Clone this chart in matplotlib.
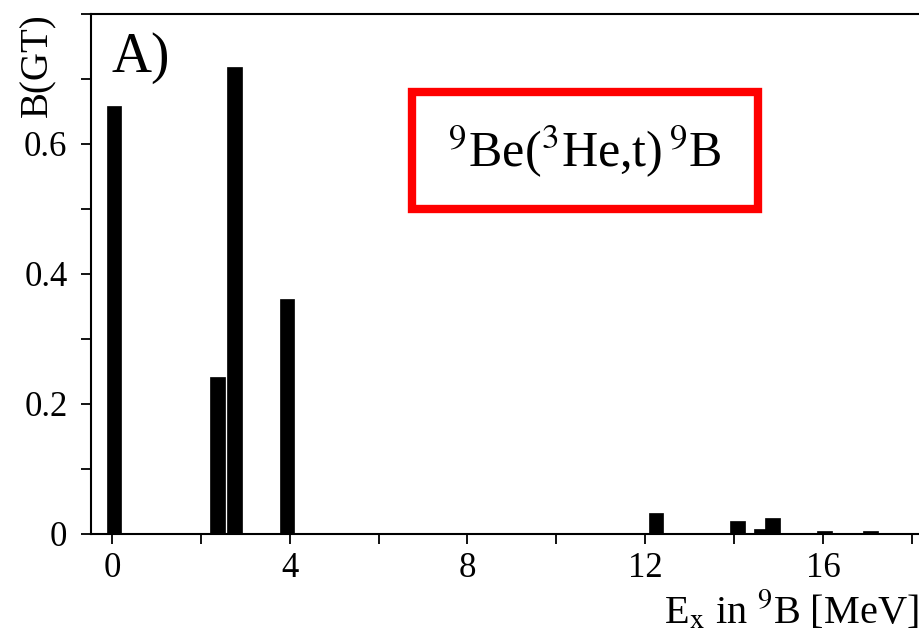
import matplotlib
matplotlib.use('Agg')
import matplotlib.pyplot as plt
from matplotlib.patches import Rectangle
from matplotlib.ticker import MultipleLocator

plt.rcParams['font.family'] = ['Liberation Serif', 'DejaVu Serif']
plt.rcParams['mathtext.fontset'] = 'stix'

# excitation energies in 9B (MeV) and B(GT) strengths
energy = [0.05, 2.37, 2.76, 3.94, 12.24, 14.07, 14.6, 14.86, 16.03, 17.07]
bgt = [0.658, 0.242, 0.718, 0.362, 0.032, 0.020, 0.008, 0.025, 0.005, 0.005]

fig = plt.figure(figsize=(9.2, 6.36), dpi=100)
ax = fig.add_axes([91/920, 1-534/636, 1-91/920, (534-14)/636])

ax.bar(energy, bgt, width=0.33, color='black', edgecolor='black', linewidth=0.5)

ax.set_xlim(-0.47, 18.18)
ax.set_ylim(0, 0.8)
ax.xaxis.set_major_locator(MultipleLocator(4))
ax.xaxis.set_minor_locator(MultipleLocator(2))
ax.yaxis.set_major_locator(MultipleLocator(0.2))
ax.yaxis.set_minor_locator(MultipleLocator(0.1))
ax.set_yticks([0, 0.2, 0.4, 0.6])
ax.set_yticklabels(['0', '0.2', '0.4', '0.6'])
ax.tick_params(which='both', direction='out', length=7, width=1.3, labelsize=25)
ax.tick_params(axis='x', pad=6)
ax.tick_params(axis='y', pad=10)
ax.spines['right'].set_visible(False)
for s in ['left', 'bottom', 'top']:
    ax.spines[s].set_linewidth(1.5)

ax.text(0.025, 0.965, 'A)', transform=ax.transAxes, fontsize=40, va='top', ha='left')

fig.text(38/920, 1-65/636, 'B(GT)', rotation=90, fontsize=28, ha='center', va='center')
fig.text(918/920, 1-611/636, r'E$_\mathrm{x}$ in $^{9}$B [MeV]', fontsize=29, ha='right', va='center')

# red box with reaction label
fig.patches.append(Rectangle((412/920, 1-209/636), 346/920, 117/636, transform=fig.transFigure,
                             fill=False, edgecolor='#ff0000', linewidth=6))
fig.text(585/920, 1-152/636, r'$^{9}$Be($^{3}$He,t)$\,^{9}$B', fontsize=36, ha='center', va='center')

fig.savefig('out.png', dpi=100)
